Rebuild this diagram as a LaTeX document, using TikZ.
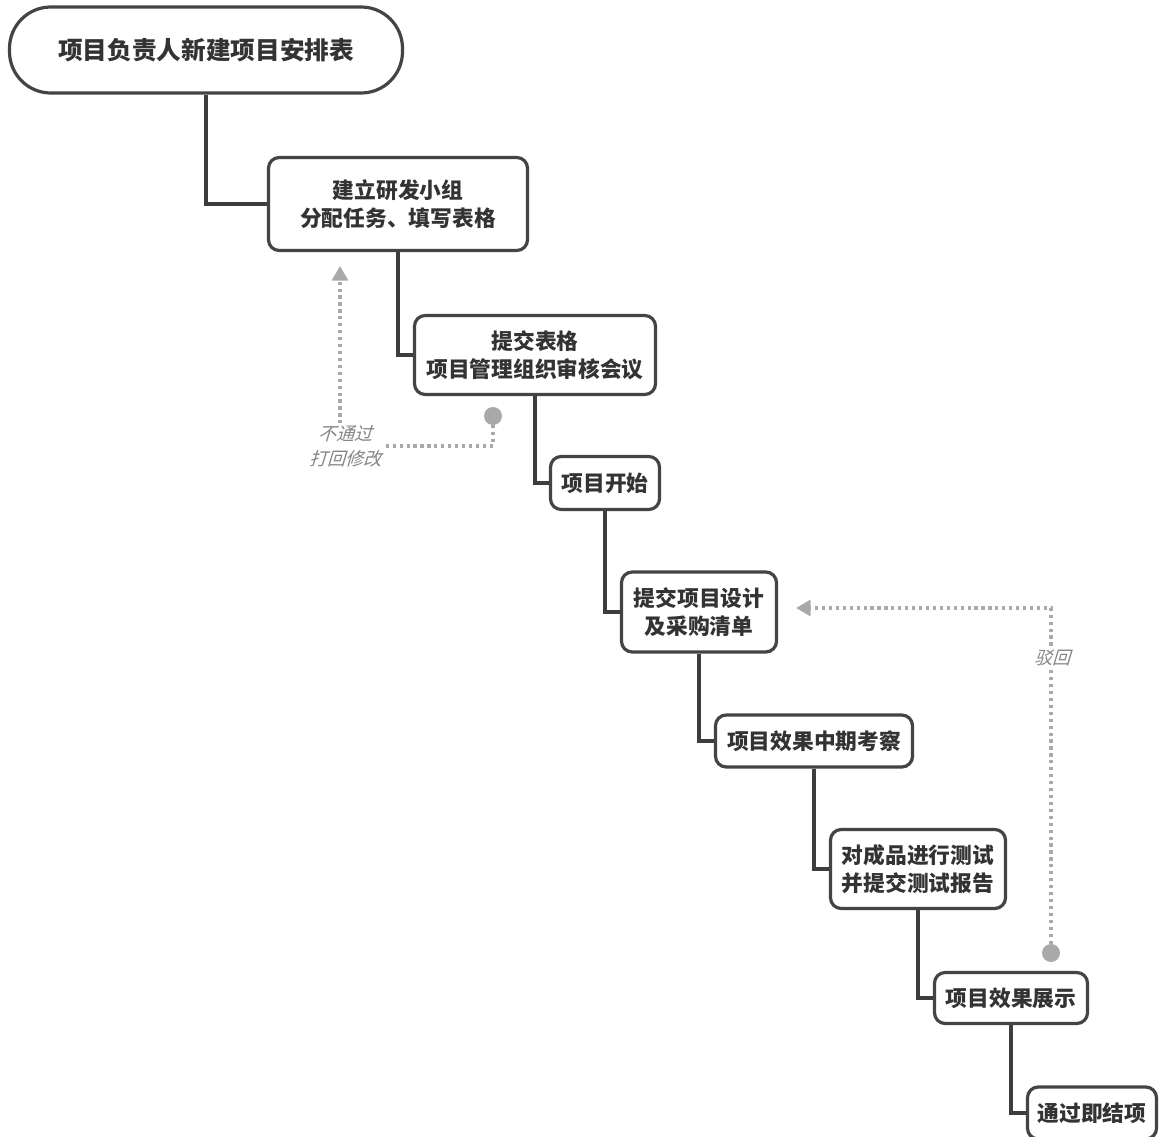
\documentclass[tikz,border=0pt]{standalone}
\usepackage{fontspec}
\setmainfont{Noto Sans CJK SC}
\newfontfamily\cjkit{Noto Sans CJK SC}[FakeSlant=0.3]
\usetikzlibrary{arrows.meta}
\definecolor{linec}{HTML}{3D3D3D}
\definecolor{boxc}{HTML}{444444}
\definecolor{txtc}{HTML}{333333}
\definecolor{fbc}{HTML}{A9A9A9}
\definecolor{fbtxt}{HTML}{858585}
\tikzset{
  box/.style={draw=boxc, line width=2.4pt, rounded corners=8pt, fill=white,
    align=center, text=txtc, font=\bfseries\fontsize{16.3}{21}\selectfont, inner sep=0pt},
  pill/.style={box, rounded corners=31pt, font=\bfseries\fontsize{18.5}{22}\selectfont},
  conn/.style={draw=linec, line width=3pt},
  fb/.style={draw=fbc, line width=2.6pt, dash pattern=on 2.4pt off 2.8pt},
  fbtip/.style={-{Triangle[width=12pt,length=11pt,fill=fbc]}},
  fbdot/.style={circle, fill=fbc, minimum size=13.5pt, inner sep=0pt},
  fblabel/.style={text=fbtxt, align=center, font=\cjkit\fontsize{13.5}{19}\selectfont, inner sep=1pt}
}
\begin{document}
\begin{tikzpicture}[x=0.75pt,y=-0.75pt]
\useasboundingbox[fill=white] (0,0) rectangle (1159,1137);
% nodes
\node[pill, minimum width=294.75pt, minimum height=64.5pt] (n1) at (206,50) {项目负责人新建项目安排表};
\node[box, minimum width=194.25pt, minimum height=69.75pt] (n2) at (398,204) {建立研发小组\\分配任务、填写表格};
\node[box, minimum width=180.75pt, minimum height=59.25pt] (n3) at (535,355) {提交表格\\项目管理组织审核会议};
\node[box, minimum width=81.75pt, minimum height=39.75pt] (n4) at (605,483) {项目开始};
\node[box, minimum width=116.25pt, minimum height=60pt] (n5) at (699,612) {提交项目设计\\及采购清单};
\node[box, minimum width=147.75pt, minimum height=39pt] (n6) at (814,741) {项目效果中期考察};
\node[box, minimum width=131.25pt, minimum height=59.25pt] (n7) at (918,869) {对成品进行测试\\并提交测试报告};
\node[box, minimum width=114.75pt, minimum height=38.25pt] (n8) at (1011,998) {项目效果展示};
\node[box, minimum width=96.75pt, minimum height=39pt] (n9) at (1092,1113) {通过即结项};
% connectors
\draw[conn] (n1.south) |- (n2.west);
\draw[conn] (n2.south) |- (n3.west);
\draw[conn] (n3.south) |- (n4.west);
\draw[conn] (n4.south) |- (n5.west);
\draw[conn] (n5.south) |- (n6.west);
\draw[conn] (n6.south) |- (n7.west);
\draw[conn] (n7.south) |- (n8.west);
\draw[conn] (n8.south) |- (n9.west);
% feedback 1
\node[fbdot] (d1) at (493,416) {};
\node[fblabel] (l1) at (345,446) {不通过\\打回修改};
\coordinate (a1) at (340,266);
\draw[fb] (d1.south) |- (l1.east);
\draw[fb, fbtip] (l1.north -| a1) -- (a1);
% feedback 2
\node[fbdot] (d2) at (1051,953) {};
\coordinate (a2) at (796,608);
\draw[fb, fbtip] (d2.north) |- (a2);
\node[fblabel, fill=white] (l2) at (1052,658) {驳回};
\end{tikzpicture}
\end{document}
